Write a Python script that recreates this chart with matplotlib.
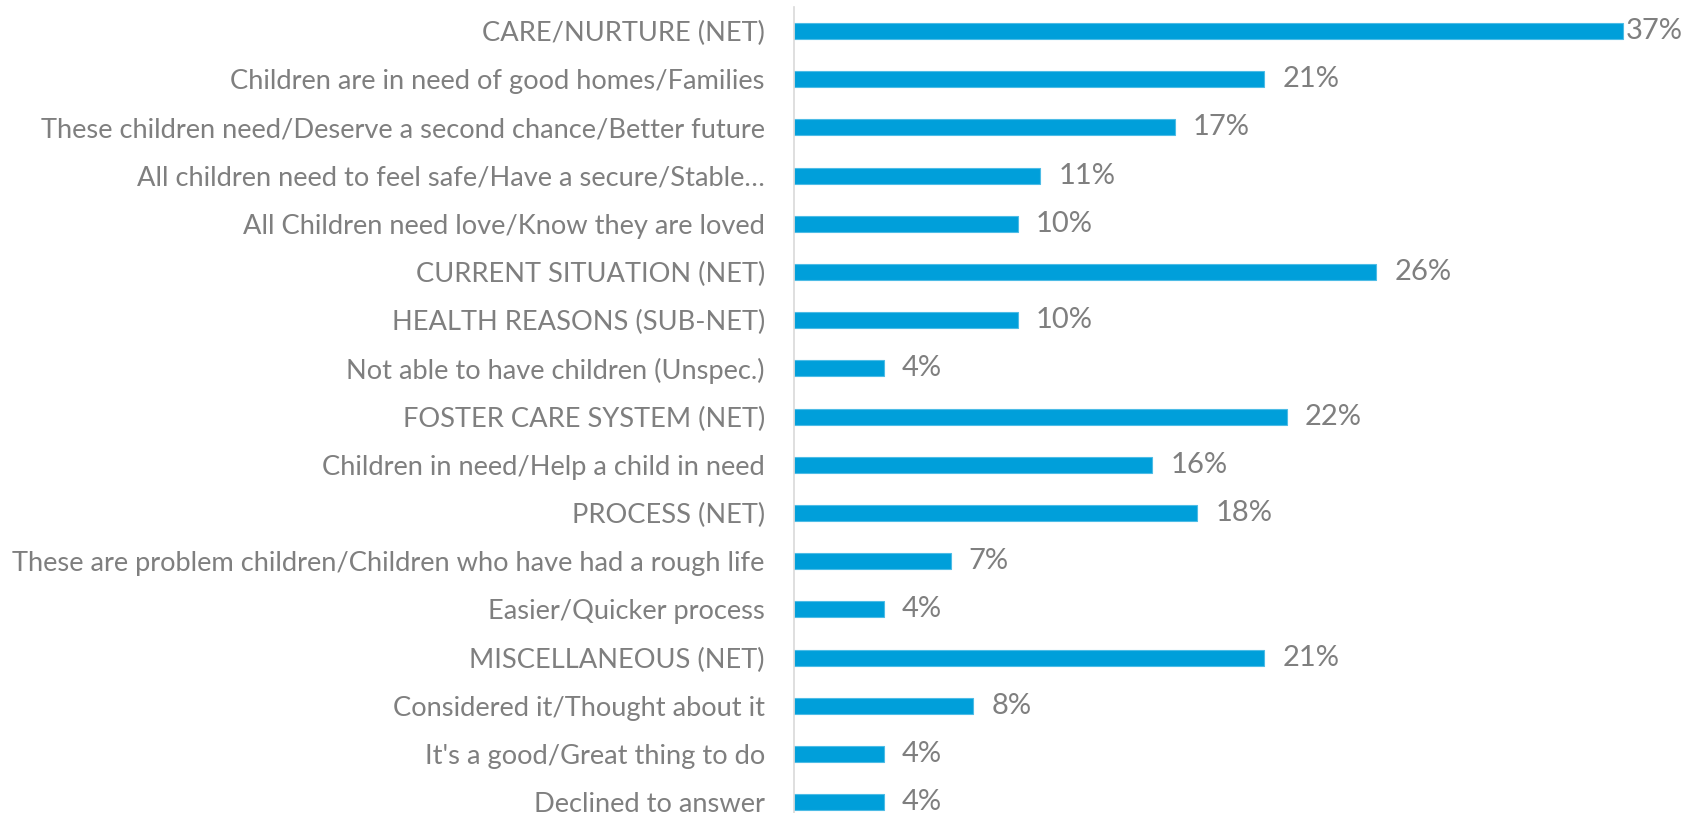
import matplotlib
matplotlib.use("Agg")
import matplotlib.pyplot as plt

categories = [
    "CARE/NURTURE (NET)",
    "Children are in need of good homes/Families",
    "These children need/Deserve a second chance/Better future",
    "All children need to feel safe/Have a secure/Stable…",
    "All Children need love/Know they are loved",
    "CURRENT SITUATION (NET)",
    "HEALTH REASONS (SUB-NET)",
    "Not able to have children (Unspec.)",
    "FOSTER CARE SYSTEM (NET)",
    "Children in need/Help a child in need",
    "PROCESS (NET)",
    "These are problem children/Children who have had a rough life",
    "Easier/Quicker process",
    "MISCELLANEOUS (NET)",
    "Considered it/Thought about it",
    "It's a good/Great thing to do",
    "Declined to answer",
]
values = [37, 21, 17, 11, 10, 26, 10, 4, 22, 16, 18, 7, 4, 21, 8, 4, 4]
value_labels = [f"{v}%" for v in values]

W, H, DPI = 1695, 813, 100
fig = plt.figure(figsize=(W / DPI, H / DPI), dpi=DPI)
ax_left = 794
ax = fig.add_axes([ax_left / W, 0, (W - ax_left) / W, 1])

px_per_unit = 22.4
row = 48.2
top_c = 31
ax.set_xlim(0, (W - ax_left) / px_per_unit)
ax.set_ylim((H - top_c) / row, -top_c / row)

pos = list(range(len(categories)))
ax.barh(pos, values, height=0.33, color="#009FDA", edgecolor="#4DBCE6", linewidth=0.8)

gray = "#7F7F7F"
font = "Lato"
fs = 19.6
vfs = 21
ax.set_yticks(pos)
ax.set_yticklabels(categories, fontsize=fs, color=gray, family=font)
ax.tick_params(axis="y", length=0, pad=21)
ax.set_xticks([])

for s in ["top", "right", "bottom"]:
    ax.spines[s].set_visible(False)
ax.spines["left"].set_color("#D9D9D9")
ax.spines["left"].set_linewidth(1.2)
ax.spines["left"].set_bounds(-0.5, 16.6)

vmax = max(values)
for p, v, lab in zip(pos, values, value_labels):
    off = 2 if v == vmax else 13
    ax.annotate(lab, (v, p), xytext=(off, 0), textcoords="offset points",
                va="center", ha="left", fontsize=vfs, color=gray, family=font,
                annotation_clip=False)

fig.savefig("out.png", dpi=DPI)
